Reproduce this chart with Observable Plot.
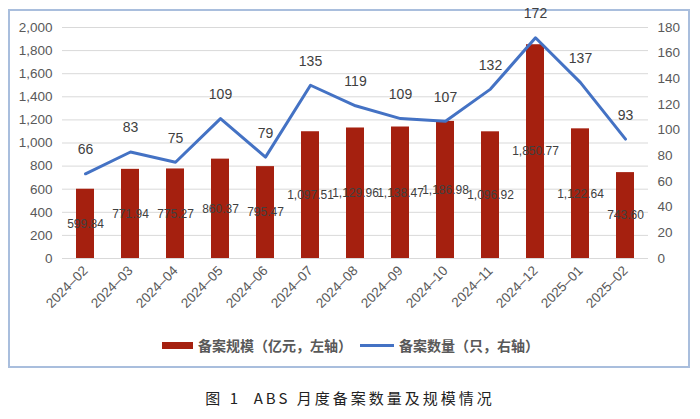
<!DOCTYPE html>
<html><head><meta charset="utf-8">
<script src="https://cdn.jsdelivr.net/npm/d3@7"></script>
<script src="https://cdn.jsdelivr.net/npm/@observablehq/plot@0.6"></script>
<style>
body{margin:0;background:#fff;}
#wrap{position:relative;width:700px;height:419px;overflow:hidden;font-family:"Liberation Sans",Arial,sans-serif;}
#frame{position:absolute;left:8px;top:9px;width:682px;height:359px;border:2px solid #A9BEDD;box-sizing:border-box;}
#chart{position:absolute;left:0;top:0;}
#legend{position:absolute;left:162px;top:336px;height:18px;display:flex;align-items:center;font-family:"Noto Sans CJK SC",sans-serif;font-size:14px;font-weight:700;color:#595959;white-space:nowrap;}
#legend .sw{width:31px;height:7px;background:#A5200F;margin-right:5px;}
#legend .ln{width:34px;height:3px;background:#4472C4;margin:0 5px 0 8px;}
#title{position:absolute;left:0;top:387px;width:700px;text-align:center;font-family:"Noto Sans CJK SC",sans-serif;font-size:15px;letter-spacing:3px;color:#222;}
</style></head>
<body>
<div id="wrap">
  <div id="frame"></div>
  <div id="chart"></div>
  <div id="legend"><span class="sw"></span><span>备案规模（亿元，左轴）</span><span class="ln"></span><span>备案数量（只，右轴）</span></div>
  <div id="title">图 1&nbsp;&nbsp;ABS 月度备案数量及规模情况</div>
</div>
<script>
const months = ["2024–02","2024–03","2024–04","2024–05","2024–06","2024–07","2024–08","2024–09","2024–10","2024–11","2024–12","2025–01","2025–02"];
const scaleValues = [599.84, 771.94, 775.27, 860.37, 795.47, 1097.51, 1129.96, 1138.47, 1186.98, 1096.92, 1850.77, 1122.64, 743.60];
const countValues = [66, 83, 75, 109, 79, 135, 119, 109, 107, 132, 172, 137, 93];
const leftTicks = [0,200,400,600,800,1000,1200,1400,1600,1800,2000];
const rightTicks = [0,20,40,60,80,100,120,140,160,180];
const leftMax = 2000, rightMax = 180;

const k = leftMax / rightMax;
const data = months.map((m, i) => ({month: m, scale: scaleValues[i], count: countValues[i]}));

const chart = Plot.plot({
  width: 700, height: 330,
  marginLeft: 62, marginRight: 52, marginTop: 27, marginBottom: 72,
  style: {fontFamily: "Liberation Sans, Arial, sans-serif", background: "transparent"},
  x: {domain: months, paddingInner: 0.6, paddingOuter: 0.3},
  y: {domain: [0, leftMax]},
  marks: [
    Plot.gridY(leftTicks, {stroke: "#D9D9D9", strokeOpacity: 1, strokeWidth: 1}),
    Plot.axisY(leftTicks, {anchor: "left", tickSize: 0, tickPadding: 10, tickFormat: d3.format(","), fontSize: 13.5, fill: "#595959", label: null}),
    Plot.axisY(rightTicks.map(v => v * k), {anchor: "right", tickSize: 0, tickPadding: 9, tickFormat: v => String(Math.round(v / k)), fontSize: 13.5, fill: "#595959", label: null}),
    Plot.axisX({tickRotate: -45, tickSize: 0, tickPadding: 10, fontSize: 13.5, fill: "#595959", label: null}),
    Plot.barY(data, {x: "month", y: "scale", fill: "#A5200F"}),
    Plot.text(data, {x: "month", y: d => d.scale / 2, text: d => d3.format(",.2f")(d.scale), fill: "#404040", fontSize: 12}),
    Plot.line(data, {x: "month", y: d => d.count * k, stroke: "#4472C4", strokeWidth: 3, strokeLinejoin: "round"}),
    Plot.text(data, {x: "month", y: d => d.count * k, text: d => String(d.count), dy: -24, fontSize: 14, fill: "#404040"})
  ]
});
document.getElementById("chart").appendChild(chart);
</script>
</body></html>
